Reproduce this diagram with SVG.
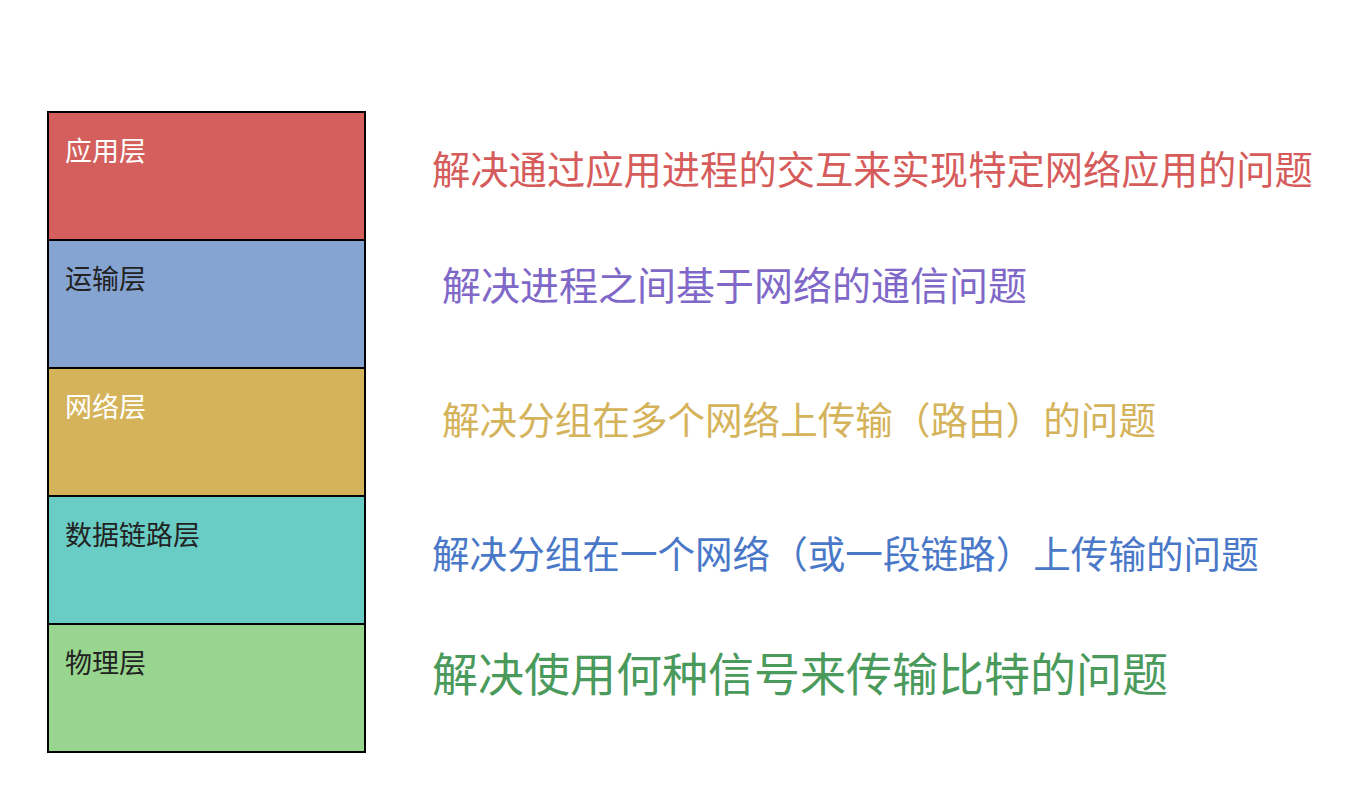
<svg xmlns="http://www.w3.org/2000/svg" width="1362" height="800" viewBox="0 0 1362 800">
<style>
.layer{stroke:#000;stroke-width:2}
.lbl{font-family:"Noto Sans CJK SC","Noto Sans",sans-serif;font-size:27px}
.desc{font-family:"Noto Sans CJK SC","Noto Sans",sans-serif;font-size:38px}
</style>
<rect width="1362" height="800" fill="#fff"/>
<g id="app">
<rect class="layer" x="48" y="112" width="317" height="128" fill="#d45f5c"/>
<text class="lbl" x="65" y="161" fill="#fff">应用层</text>
</g>
<g id="transport">
<rect class="layer" x="48" y="240" width="317" height="128" fill="#85a4d2"/>
<text class="lbl" x="65" y="289" fill="#222">运输层</text>
</g>
<g id="network">
<rect class="layer" x="48" y="368" width="317" height="128" fill="#d4b35a"/>
<text class="lbl" x="65" y="417" fill="#fff">网络层</text>
</g>
<g id="datalink">
<rect class="layer" x="48" y="496" width="317" height="128" fill="#69cdc5"/>
<text class="lbl" x="65" y="545" fill="#222">数据链路层</text>
</g>
<g id="physical">
<rect class="layer" x="48" y="624" width="317" height="128" fill="#98d58e"/>
<text class="lbl" x="65" y="673" fill="#222">物理层</text>
</g>
<g id="desc-app"><text class="desc" x="432" y="184" fill="#d65c5c" style="font-size:38.3px">解决通过应用进程的交互来实现特定网络应用的问题</text></g>
<g id="desc-transport"><text class="desc" x="442" y="300" fill="#8068c8" style="font-size:39px">解决进程之间基于网络的通信问题</text></g>
<g id="desc-network"><text class="desc" x="442" y="434" fill="#d4b35a" style="font-size:37.6px">解决分组在多个网络上传输（路由）的问题</text></g>
<g id="desc-datalink"><text class="desc" x="432" y="568" fill="#4a78c8" style="font-size:37.6px">解决分组在一个网络（或一段链路）上传输的问题</text></g>
<g id="desc-physical"><text class="desc" x="432" y="691" fill="#4a9a5c" style="font-size:46px">解决使用何种信号来传输比特的问题</text></g>
<g id="connectors"></g>
</svg>
